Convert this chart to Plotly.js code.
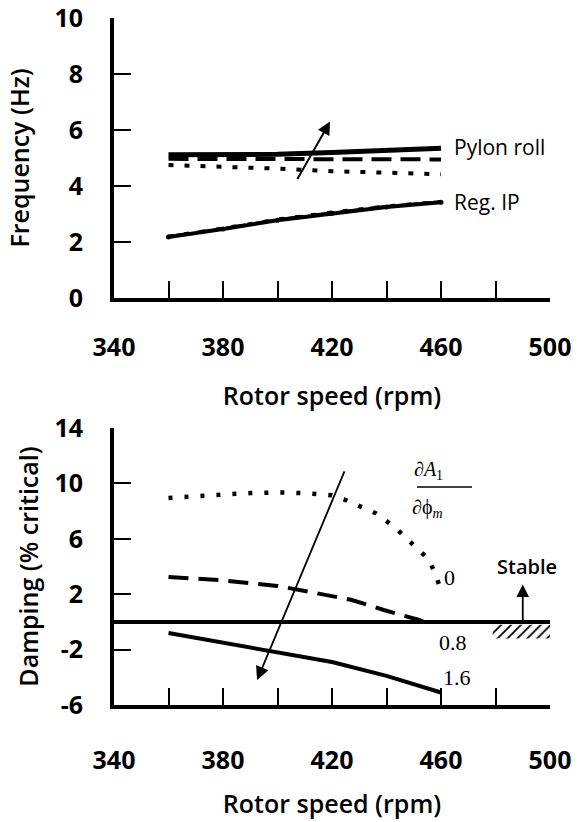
<!DOCTYPE html>
<html>
<head>
<meta charset="utf-8">
<script src="https://cdn.plot.ly/plotly-3.0.1.min.js"></script>
<style>html,body{margin:0;padding:0;background:#fff;}</style>
</head>
<body>
<div id="chart" style="width:581px;height:822px;"></div>
<script>
// ---- Top panel: frequency (Hz) vs rotor speed ----
const rpm = [360, 380, 400, 420, 440, 460];
const pylonSolid  = [5.12, 5.12, 5.13, 5.20, 5.28, 5.35];
const pylonDashed = [4.97, 4.97, 4.96, 4.96, 4.95, 4.95];
const pylonDotted = [4.75, 4.70, 4.62, 4.53, 4.47, 4.42];
const regIPSolid  = [2.18, 2.46, 2.78, 3.03, 3.25, 3.42];
const regIPDashed = [2.20, 2.48, 2.80, 3.05, 3.27, 3.44];
const regIPDotted = [2.21, 2.50, 2.82, 3.07, 3.29, 3.45];

// ---- Bottom panel: damping (% critical) vs rotor speed ----
const dampDotX = [360, 370, 380, 390, 400, 410, 420, 425, 430, 436, 443, 449, 455, 458, 460];
const dampDot0 = [8.95, 9.1, 9.2, 9.3, 9.35, 9.3, 9.15, 8.8, 8.4, 7.85, 6.85, 5.7, 4.6, 3.5, 2.2];
const dampDashX = [360, 380, 400, 413, 427, 439, 452, 456];
const dampDash08 = [3.25, 3.0, 2.6, 2.1, 1.6, 0.86, 0.14, -0.2];
const dampSolidX = [360, 380, 400, 420, 440, 460];
const dampSolid16 = [-0.8, -1.5, -2.2, -2.9, -3.9, -5.1];

// hatched "stable" boundary region
const hatchX = [479, 500, 500, 479];
const hatchY = [-0.2, -0.2, -1.2, -1.2];

// tick labels
const xTickVals = [340, 380, 420, 460, 500];
const xTickText = ['340', '380', '420', '460', '500'];
const xMinorVals = [360, 400, 440, 480];
const y1TickVals = [0, 2, 4, 6, 8, 10];
const y1TickText = ['0', '2', '4', '6', '8', '10'];
const y2TickVals = [-6, -2, 2, 6, 10, 14];
const y2TickText = ['-6', '-2', '2', '6', '10', '14'];

// curve labels
const curveLabels = ['0', '0.8', '1.6'];
const curveLabelX = [463.3, 464.4, 465.9];
const curveLabelY = [3.2, -1.5, -4.0];

const W = 581, H = 822;
const L = 114, R = 550;
const T1 = 18, B1 = 298, T2 = 428, B2 = 705;

const sans = 'Open Sans, sans-serif';
const serif = 'Liberation Serif, DejaVu Serif, serif';
const tickFont = {family: sans, size: 25, color: '#000', weight: 700};
const titleFont = {family: sans, size: 25, color: '#000', weight: 600};

const blk = '#000';
const traces = [
  {x: rpm, y: pylonSolid, xaxis: 'x', yaxis: 'y', mode: 'lines', line: {color: blk, width: 5}},
  {x: rpm, y: pylonDashed, xaxis: 'x', yaxis: 'y', mode: 'lines', line: {color: blk, width: 4, dash: '20px,9px'}},
  {x: rpm, y: pylonDotted, xaxis: 'x', yaxis: 'y', mode: 'lines', line: {color: blk, width: 4, dash: '5px,11px'}},
  {x: rpm, y: regIPSolid, xaxis: 'x', yaxis: 'y', mode: 'lines+markers', line: {color: blk, width: 4}, marker: {size: 5, color: blk}},
  {x: rpm, y: regIPDashed, xaxis: 'x', yaxis: 'y', mode: 'lines', line: {color: blk, width: 3, dash: '20px,9px'}},
  {x: rpm, y: regIPDotted, xaxis: 'x', yaxis: 'y', mode: 'lines', line: {color: blk, width: 3, dash: '5px,11px'}},

  {x: dampDotX, y: dampDot0, xaxis: 'x2', yaxis: 'y2', mode: 'lines', line: {color: blk, width: 4.5, dash: '4px,12px'}},
  {x: dampDashX, y: dampDash08, xaxis: 'x2', yaxis: 'y2', mode: 'lines', line: {color: blk, width: 4, dash: '20px,10px'}},
  {x: dampSolidX, y: dampSolid16, xaxis: 'x2', yaxis: 'y2', mode: 'lines', line: {color: blk, width: 4}},
  {x: hatchX, y: hatchY, xaxis: 'x2', yaxis: 'y2', mode: 'lines', fill: 'toself', line: {width: 0, color: 'rgba(0,0,0,0)'},
   fillcolor: 'rgba(0,0,0,0)', fillpattern: {shape: '/', fgcolor: blk, bgcolor: 'white', size: 7, solidity: 0.25}}
];

function xAxis(anchor, standoff, titleStandoff) {
  return {
    domain: [L / W, R / W], anchor: anchor, range: [340, 500],
    tickmode: 'array', tickvals: xTickVals, ticktext: xTickText,
    ticks: 'inside', ticklen: 17, tickwidth: 2, tickcolor: blk,
    minor: {tickmode: 'array', tickvals: xMinorVals, ticks: 'inside', ticklen: 17, tickwidth: 2, tickcolor: blk, showgrid: false},
    showline: true, linewidth: 4, linecolor: blk,
    showgrid: false, zeroline: false, ticklabeloverflow: 'allow',
    ticklabelstandoff: standoff, tickfont: tickFont,
    title: {text: 'Rotor speed (rpm)', font: titleFont, standoff: titleStandoff}
  };
}
function yAxis(anchor, dom, range, vals, text, title, zl, titleStandoff) {
  return {
    domain: dom, anchor: anchor, range: range,
    tickmode: 'array', tickvals: vals, ticktext: text,
    ticks: 'inside', ticklen: 17, tickwidth: 2, tickcolor: blk,
    showline: true, linewidth: 4, linecolor: blk,
    showgrid: false, zeroline: zl, zerolinecolor: blk, zerolinewidth: 4,
    ticklabeloverflow: 'allow',
    ticklabelstandoff: 22, tickfont: tickFont,
    title: {text: title, font: titleFont, standoff: titleStandoff}
  };
}

const annFont = {family: sans, size: 21, color: blk, weight: 500};
const annotations = [
  {xref: 'x', yref: 'y', x: 464, y: 5.38, text: 'Pylon roll', showarrow: false, xanchor: 'left', font: annFont},
  {xref: 'x', yref: 'y', x: 464, y: 3.42, text: 'Reg. IP', showarrow: false, xanchor: 'left', font: annFont},
  {xref: 'x', yref: 'y', axref: 'x', ayref: 'y', x: 419.3, y: 6.3, ax: 407, ay: 4.2, text: '', showarrow: true,
   arrowhead: 2, arrowsize: 1.3, arrowwidth: 2, arrowcolor: blk},
  {xref: 'x2', yref: 'y2', axref: 'x2', ayref: 'y2', x: 392.5, y: -4.2, ax: 424.8, ay: 10.97, text: '', showarrow: true,
   arrowhead: 2, arrowsize: 1.5, arrowwidth: 1.8, arrowcolor: blk},
  {xref: 'x2', yref: 'y2', axref: 'x2', ayref: 'y2', x: 490, y: 2.7, ax: 490, ay: 0, text: '', showarrow: true,
   arrowhead: 2, arrowsize: 1.4, arrowwidth: 1.8, arrowcolor: blk},
  {xref: 'x2', yref: 'y2', x: 491.6, y: 4.0, text: 'Stable', showarrow: false, font: {family: sans, size: 20, color: blk, weight: 600}},
  {xref: 'paper', yref: 'paper', x: 445 / W, y: 1 - 470 / H, text: '∂<i>A</i><sub>1</sub>', showarrow: false,
   font: {family: serif, size: 20, color: blk}},
  {xref: 'paper', yref: 'paper', x: 445 / W, y: 1 - 508 / H, text: '∂ϕ<sub><i>m</i></sub>', showarrow: false,
   font: {family: serif, size: 20, color: blk}}
];
for (let i = 0; i < curveLabels.length; i++) {
  annotations.push({xref: 'x2', yref: 'y2', x: curveLabelX[i], y: curveLabelY[i], text: curveLabels[i],
    showarrow: false, font: {family: serif, size: 22, color: blk}});
}

const layout = {
  width: W, height: H, margin: {l: 0, r: 0, t: 0, b: 0},
  paper_bgcolor: '#fff', plot_bgcolor: '#fff', showlegend: false,
  xaxis: xAxis('y', 24, 26),
  yaxis: yAxis('x', [1 - B1 / H, 1 - T1 / H], [0, 10], y1TickVals, y1TickText, 'Frequency (Hz)', false, 19),
  xaxis2: xAxis('y2', 30, 21),
  yaxis2: yAxis('x2', [1 - B2 / H, 1 - T2 / H], [-6, 14], y2TickVals, y2TickText, 'Damping (% critical)', true, 10),
  annotations: annotations,
  shapes: [
    {type: 'line', xref: 'paper', yref: 'paper', x0: 417 / W, x1: 472 / W, y0: 1 - 487 / H, y1: 1 - 487 / H,
     line: {color: blk, width: 1.5}}
  ]
};

Plotly.newPlot('chart', traces, layout, {staticPlot: true, displayModeBar: false});
</script>
</body>
</html>
